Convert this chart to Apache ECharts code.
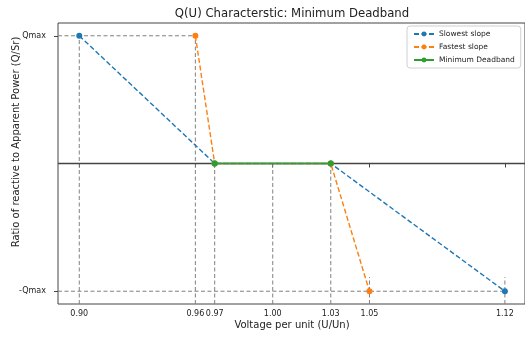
<!DOCTYPE html>
<html>
<head>
<meta charset="utf-8">
<script src="https://cdn.jsdelivr.net/npm/echarts@6/dist/echarts.min.js"></script>
<style>html,body{margin:0;padding:0;background:#fff}#c{width:525px;height:339px}</style>
</head>
<body>
<div id="c"></div>
<script>
// ---- data ----
const xTicks = [0.90, 0.96, 0.97, 1.00, 1.03, 1.05, 1.12];
const yTickValues = [-1, 1];
const yTickLabels = ['-Qmax', 'Qmax'];
const slowX = [0.90, 0.97, 1.03, 1.12];
const slowY = [1, 0, 0, -1];
const fastX = [0.96, 0.97, 1.03, 1.05];
const fastY = [1, 0, 0, -1];
const deadX = [0.97, 1.03];
const deadY = [0, 0];
// guide (dashed gray) lines
const guideVX = [0.90, 0.96, 0.97, 1.00, 1.03, 1.05, 1.12];
const guideVTop = [1, 1, 0, 0, 0, -0.89, -0.89];
const guideHY = [1, -1];
const guideHEnd = [0.96, 1.12];

const X_MIN = 0.889, X_MAX = 1.1304, Y_MIN = -1.1, Y_MAX = 1.1;
const FONT = 'DejaVu Sans';
const blue = '#1f77b4', orange = '#ff7f0e', green = '#2ca02c', gray = '#808080';

const zip = (xs, ys) => xs.map((x, i) => [x, ys[i]]);
const series = [];
guideVX.forEach((x, i) => {
  series.push({type: 'line', silent: true, symbol: 'none', z: 1,
    data: [[x, Y_MIN], [x, guideVTop[i]]],
    lineStyle: {color: gray, width: 1, type: [4, 2.5]}});
});
guideHY.forEach((y, i) => {
  series.push({type: 'line', silent: true, symbol: 'none', z: 1,
    data: [[X_MIN, y], [guideHEnd[i], y]],
    lineStyle: {color: gray, width: 1, type: [4, 2.5]}});
});
series.push({type: 'line', silent: true, symbol: 'none', z: 2,
  data: [[X_MIN, 0], [X_MAX, 0]],
  lineStyle: {color: '#444', width: 1.6}});
series.push({name: 'Slowest slope', type: 'line', z: 3, data: zip(slowX, slowY),
  symbol: 'circle', symbolSize: 6, itemStyle: {color: blue},
  lineStyle: {color: blue, width: 1.4, type: [5, 2.5]}});
series.push({name: 'Fastest slope', type: 'line', z: 4, data: zip(fastX, fastY),
  symbol: 'circle', symbolSize: 6, itemStyle: {color: orange},
  lineStyle: {color: orange, width: 1.4, type: [5, 2.5]}});
series.push({name: 'Minimum Deadband', type: 'line', z: 5, data: zip(deadX, deadY),
  symbol: 'circle', symbolSize: 6, itemStyle: {color: green},
  lineStyle: {color: green, width: 1.5}});

const chart = echarts.init(document.getElementById('c'), null, {renderer: 'canvas'});
chart.setOption({
  animation: false,
  backgroundColor: '#fff',
  textStyle: {fontFamily: FONT},
  grid: {left: 58, right: 0, top: 23, bottom: 35, show: true, borderColor: '#444', borderWidth: 1},
  xAxis: {
    type: 'value', min: X_MIN, max: X_MAX,
    axisLine: {show: false}, splitLine: {show: false},
    axisTick: {show: true, customValues: xTicks, length: 4, lineStyle: {color: '#444'}},
    axisLabel: {customValues: xTicks, formatter: v => v.toFixed(2), fontSize: 8, color: '#222', margin: 6, fontFamily: FONT}
  },
  yAxis: {
    type: 'value', min: Y_MIN, max: Y_MAX,
    axisLine: {show: false}, splitLine: {show: false},
    axisTick: {show: true, customValues: yTickValues, length: 4, lineStyle: {color: '#444'}},
    axisLabel: {customValues: yTickValues, formatter: v => yTickLabels[yTickValues.indexOf(Math.round(v))], fontSize: 8, color: '#222', margin: 12, fontFamily: FONT}
  },
  legend: {
    data: ['Slowest slope', 'Fastest slope', 'Minimum Deadband'],
    orient: 'vertical', left: 407, top: 26,
    itemWidth: 20, itemHeight: 6, itemGap: 5,
    padding: [4, 6, 4, 6],
    borderColor: '#d0d0d0', borderWidth: 1, borderRadius: 3, backgroundColor: '#fff',
    textStyle: {fontSize: 7.5, color: '#222', fontFamily: FONT}
  },
  graphic: [
    {type: 'text', x: 292, y: 14, style: {text: 'Q(U) Characterstic: Minimum Deadband', font: '11.7px "DejaVu Sans"', fill: '#222', textAlign: 'center', textVerticalAlign: 'middle'}},
    {type: 'text', x: 292, y: 325, style: {text: 'Voltage per unit (U/Un)', font: '10px "DejaVu Sans"', fill: '#222', textAlign: 'center', textVerticalAlign: 'middle'}},
    {type: 'text', x: 16, y: 142, rotation: Math.PI / 2, style: {text: 'Ratio of reactive to Apparent Power (Q/Sr)', font: '10px "DejaVu Sans"', fill: '#222', textAlign: 'center', textVerticalAlign: 'middle'}}
  ],
  series: series
});
</script>
</body>
</html>
